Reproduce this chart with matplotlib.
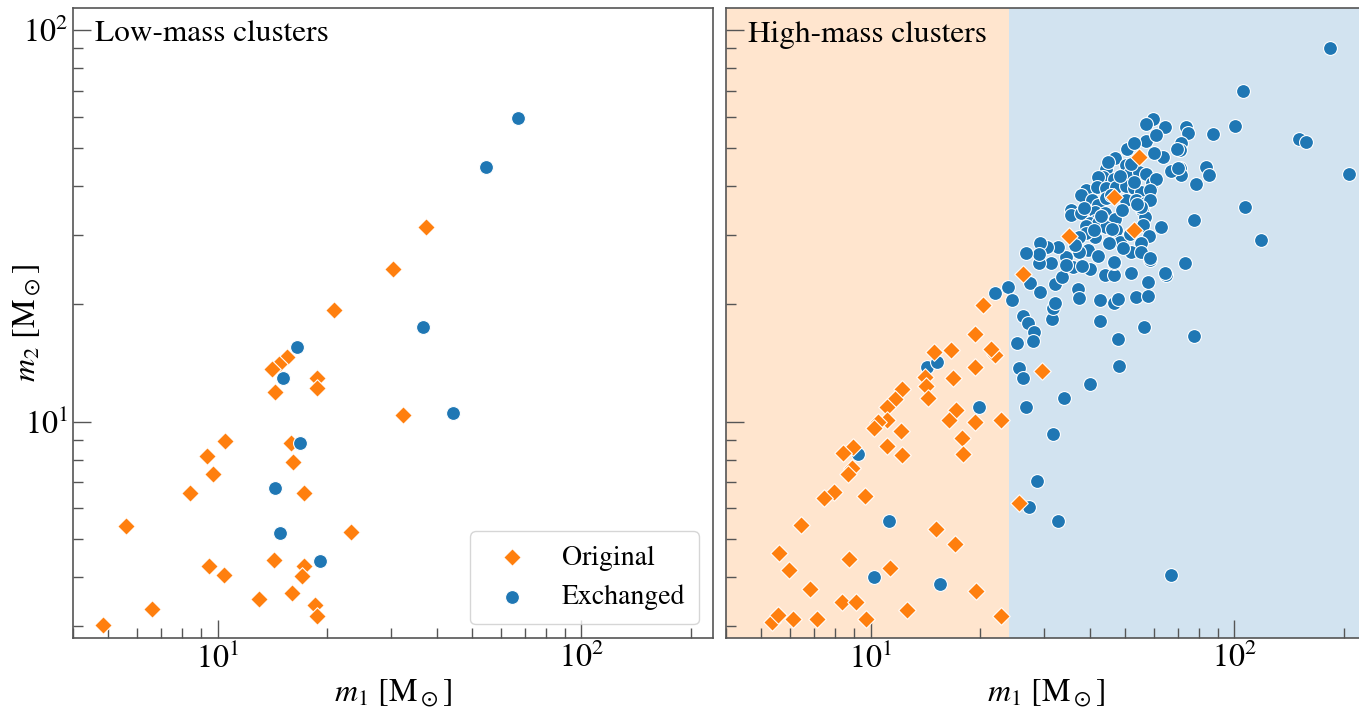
import numpy as np
import matplotlib.pyplot as plt
from matplotlib.ticker import NullFormatter

plt.rcParams['font.family'] = 'STIXGeneral'
plt.rcParams['mathtext.fontset'] = 'stix'

# low-mass clusters
low_orig_m1 = [37.3, 30.3, 20.9, 15.5, 14.7, 14.1, 14.4, 18.7, 18.8, 32.4, 10.5, 15.9, 9.33, 16.1, 9.69,
               8.38, 17.3, 5.58, 23.3, 9.44, 10.4, 14.3, 17.3, 17.0, 13.0, 16.0, 6.59, 18.5, 18.8, 4.83]
low_orig_m2 = [31.4, 24.5, 19.3, 14.6, 14.0, 13.6, 11.9, 12.9, 12.2, 10.4, 8.9, 8.8, 8.19, 7.9, 7.36,
               6.59, 6.59, 5.40, 5.24, 4.29, 4.05, 4.42, 4.29, 4.03, 3.52, 3.64, 3.33, 3.41, 3.18, 3.02]
low_exch_m1 = [67.1, 54.8, 36.8, 16.5, 15.1, 44.3, 16.8, 14.4, 14.8, 19.1]
low_exch_m2 = [59.7, 44.8, 17.5, 15.5, 12.9, 10.5, 8.84, 6.75, 5.18, 4.40]

# high-mass clusters
high_orig_m1 = [20.3, 19.4, 14.9, 16.6, 21.9, 21.4, 19.4, 14.1, 16.8, 14.2, 12.2, 14.4, 11.7, 11.1, 17.2,
                11.1, 10.5, 10.2, 12.1, 16.4, 19.4, 22.8, 17.8, 11.1, 8.93, 8.38, 12.2, 17.9, 8.87, 8.65,
                7.91, 7.43, 9.63, 6.43, 15.1, 17.1, 5.58, 8.71, 5.98, 11.3, 6.80, 19.5, 8.32, 9.10, 12.6,
                5.35, 5.55, 6.11, 7.11, 9.69, 22.8, 25.5, 54.8, 46.6, 53.1, 35.0, 26.2, 29.5]
high_orig_m2 = [19.9, 16.7, 15.1, 15.2, 14.8, 15.3, 13.8, 13.0, 12.9, 12.3, 12.1, 11.5, 11.4, 10.9, 10.7,
                10.1, 10.0, 9.66, 9.49, 10.1, 10.0, 10.1, 9.1, 8.69, 8.64, 8.34, 8.24, 8.29, 7.63, 7.33,
                6.63, 6.37, 6.44, 5.46, 5.33, 4.86, 4.61, 4.47, 4.17, 4.22, 3.73, 3.69, 3.47, 3.47, 3.30,
                3.07, 3.20, 3.14, 3.14, 3.13, 3.18, 6.21, 47.4, 37.5, 30.9, 29.8, 23.9, 13.5]

high_exch_m1 = [9.21, 11.2, 10.2, 15.5, 19.8, 14.3, 15.2, 22.0, 23.8, 24.5,
                27.5, 29.3, 26.2, 27.0, 28.2, 27.9, 25.2, 31.6, 31.8, 32.2, 32.2, 33.5, 37.1, 37.5, 42.6,
                46.8, 48.0, 42.8, 44.2, 46.8, 53.5, 57.7, 57.7, 65.0, 56.6, 48.0, 77.6, 48.3, 40.2, 33.9,
                26.7, 25.5, 26.3, 31.8, 73.3, 58.7, 46.6, 40.2, 36.1, 38.0, 31.3, 29.0, 28.6, 27.2, 32.7,
                67.1, 183.6, 105.9, 100.6, 87.1, 73.8, 74.7, 71.5, 71.0, 151.0, 157.0, 207.0, 83.8, 85.3,
                71.0, 71.5, 78.2, 107.0, 77.6, 118.0,
                59.6, 57.3, 64.3, 57.3, 60.7, 69.7, 63.8, 50.8, 53.1, 47.1, 50.2, 44.5, 43.6, 46.6, 51.5,
                54.5, 57.3, 59.2, 60.7, 67.1, 70.2, 42.3, 39.2, 41.8, 44.5, 47.4, 50.2, 53.1, 55.2, 58.7,
                37.8, 40.5, 42.3, 44.5, 50.2, 53.8, 56.9, 58.7, 55.6, 56.9, 55.2, 35.6, 35.6, 37.8, 41.5,
                44.2, 47.1, 41.5, 40.2, 42.3, 39.0, 44.5, 47.4, 56.2, 62.7, 58.1, 55.2, 52.1, 55.2, 58.7,
                48.6, 45.1, 41.5, 39.2, 37.3, 39.7, 37.3, 42.3, 46.6, 34.4, 32.8, 34.4, 30.5, 29.3, 29.0,
                26.8, 64.6, 52.1,
                48.5, 52.0, 45.8, 54.0, 43.0, 49.0, 51.8, 46.0, 38.5, 41.0, 36.5, 49.5, 53.0, 45.0, 60.0]
high_exch_m2 = [8.29, 5.59, 4.00, 3.84, 10.9, 13.8, 14.2, 21.3, 22.1, 20.4,
                22.6, 21.5, 18.6, 17.9, 16.9, 16.1, 15.9, 18.3, 19.5, 20.1, 22.5, 23.4, 21.8, 20.7, 20.5,
                20.1, 20.6, 18.1, 23.7, 23.7, 20.8, 21.0, 22.8, 23.7, 17.5, 16.3, 16.6, 13.9, 12.5, 11.5,
                10.9, 13.7, 12.9, 9.32, 25.4, 25.9, 25.4, 24.5, 24.8, 25.0, 25.4, 25.4, 7.07, 6.04, 5.56,
                4.05, 90.0, 69.9, 56.9, 54.3, 56.6, 54.6, 51.5, 49.4, 52.7, 51.8, 42.9, 44.7, 42.7,
                44.5, 42.7, 40.5, 35.4, 32.7, 29.1,
                59.3, 57.5, 56.6, 52.1, 54.0, 49.7, 47.4, 49.7, 51.5, 47.1, 45.2, 44.2, 42.2, 41.7, 43.2,
                43.5, 42.9, 40.7, 41.7, 43.7, 44.5, 42.2, 39.1, 39.8, 39.5, 39.8, 40.0, 39.5, 38.6, 39.1,
                37.9, 36.8, 35.8, 37.3, 36.8, 36.8, 36.2, 36.8, 34.7, 33.3, 35.4, 34.7, 33.7, 34.1, 34.3,
                34.1, 33.0, 32.6, 32.2, 32.2, 31.6, 31.4, 30.9, 31.8, 31.4, 29.8, 28.6, 27.2, 27.2, 26.2,
                28.8, 28.6, 29.6, 30.4, 29.6, 27.5, 27.2, 26.5, 25.6, 26.4, 27.9, 25.2, 27.9, 28.6, 26.8,
                27.0, 24.0, 24.0,
                42.5, 45.5, 38.0, 36.0, 33.5, 34.8, 30.2, 31.0, 35.2, 30.8, 28.2, 27.8, 41.0, 46.0, 48.5]

m1_split = 24.0
xlim = (4.0, 230.0)
ylim = (2.8, 114.0)

c_orig = 'tab:orange'
c_exch = 'tab:blue'
spine_col = '#555555'

fig = plt.figure(figsize=(13.59, 7.09), dpi=100)
ax1 = fig.add_axes([0.0537, 0.1001, 0.4709, 0.8886])
ax2 = fig.add_axes([0.5342, 0.1001, 0.4709, 0.8886], sharey=ax1)


def setup(ax, title):
    ax.set_xscale('log')
    ax.set_yscale('log')
    ax.set_xlim(*xlim)
    ax.set_ylim(*ylim)
    ax.xaxis.set_minor_formatter(NullFormatter())
    ax.yaxis.set_minor_formatter(NullFormatter())
    ax.tick_params(which='both', direction='in', color=spine_col, width=1.0,
                   top=False, right=False, labelsize=23)
    ax.tick_params(which='major', length=13)
    ax.tick_params(which='minor', length=7)
    for sp in ax.spines.values():
        sp.set_color(spine_col)
        sp.set_linewidth(1.2)
    ax.set_xlabel(r'$m_1$ [M$_\odot$]', fontsize=23, labelpad=2)
    ax.text(0.035, 0.980, title, transform=ax.transAxes, ha='left', va='top', fontsize=22.5)


# left panel
setup(ax1, 'Low-mass clusters')
ax1.scatter(low_orig_m1, low_orig_m2, marker='D', s=80, c=c_orig, edgecolors='white',
            linewidths=0.8, label='Original', zorder=3)
ax1.scatter(low_exch_m1, low_exch_m2, marker='o', s=100, c=c_exch, edgecolors='white',
            linewidths=0.8, label='Exchanged', zorder=3)
ax1.set_ylabel(r'$m_2$ [M$_\odot$]', fontsize=23)
ax1.yaxis.set_label_coords(-0.047, 0.5)
ax1.legend(loc='lower right', fontsize=20, borderpad=0.5)

# right panel
setup(ax2, 'High-mass clusters')
ax2.axvspan(xlim[0], m1_split, color=c_orig, alpha=0.2, lw=0, zorder=0)
ax2.axvspan(m1_split, xlim[1], color=c_exch, alpha=0.2, lw=0, zorder=0)
ax2.scatter(high_exch_m1, high_exch_m2, marker='o', s=100, c=c_exch, edgecolors='white',
            linewidths=0.8, zorder=3)
ax2.scatter(high_orig_m1, high_orig_m2, marker='D', s=80, c=c_orig, edgecolors='white',
            linewidths=0.8, zorder=3)
ax2.tick_params(labelleft=False)

fig.savefig('out.png', dpi=100)
